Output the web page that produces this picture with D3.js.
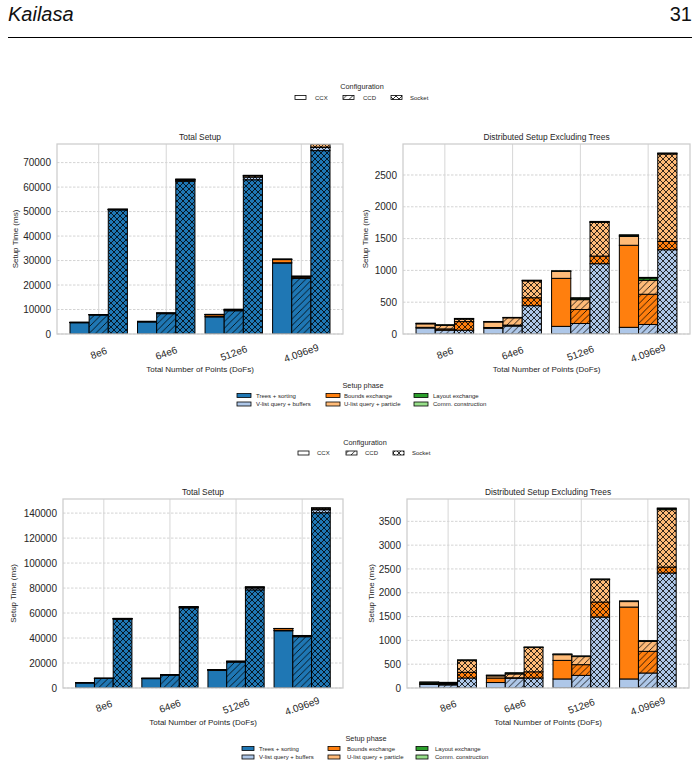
<!DOCTYPE html>
<html>
<head>
<meta charset="utf-8">
<script src="https://cdn.jsdelivr.net/npm/d3@7"></script>
<style>
  body { margin: 0; background: #fff; }
  text { font-family: "Liberation Sans", Arial, sans-serif; }
</style>
</head>
<body>
<div id="chart"></div>
<script>
// categories / series
var categories = ["8e6", "64e6", "512e6", "4.096e9"];
var configs = ["CCX", "CCD", "Socket"];
var configHatch = ["", "/", "x"];
var phases = ["Trees + sorting", "V-list query + buffers", "Bounds exchange",
              "U-list query + particle", "Layout exchange", "Comm. construction"];
var phaseColors = ["#1f77b4", "#aec7e8", "#ff7f0e", "#ffbb78", "#2ca02c", "#98df8a"];

// rows: CCX, CCD, Socket ; columns: categories
var topTrees  = [[4600, 4950, 7000, 29000], [7800, 8300, 9500, 22700], [50700, 62350, 63000, 74900]];
var topVlist  = [[95, 90, 120, 105], [60, 125, 165, 150], [60, 445, 1105, 1325]];
var topBounds = [[10, 12, 755, 1290], [20, 15, 220, 475], [135, 125, 120, 130]];
var topUlist  = [[55, 88, 110, 140], [55, 115, 155, 220], [40, 265, 530, 1375]];
var topLayout = [[5, 3, 4, 15], [5, 3, 20, 35], [5, 6, 8, 10]];
var topComm   = [[5, 4, 4, 10], [5, 3, 10, 10], [5, 5, 7, 5]];

var botTrees  = [[4150, 7490, 14000, 45820], [7640, 10390, 20730, 41040], [55090, 64190, 78560, 140300]];
var botVlist  = [[75, 115, 190, 190], [65, 205, 265, 315], [210, 210, 1490, 2415]];
var botBounds = [[10, 95, 390, 1510], [10, 10, 225, 455], [120, 130, 315, 125]];
var botUlist  = [[15, 45, 120, 115], [15, 80, 170, 210], [245, 510, 470, 1205]];
var botLayout = [[20, 10, 8, 8], [20, 15, 8, 8], [10, 6, 8, 25]];
var botComm   = [[6, 5, 6, 4], [9, 10, 4, 6], [5, 4, 6, 10]];

var topTotalMax = 77600; // left ylim of upper figure (tallest bar is cut)

var svg = d3.select("#chart").append("svg")
    .attr("width", 700)
    .attr("height", 768);
svg.append("rect").attr("width", 700).attr("height", 768).attr("fill", "#fff");
var defs = svg.append("defs");

// hatch patterns
var patternCache = {};
function fillFor(color, hatch) {
    if (!hatch) return color;
    var id = "p" + color.replace("#", "") + (hatch == "/" ? "d" : "x");
    if (!patternCache[id]) {
        var s = hatch == "/" ? 6.5 : 6;
        var p = defs.append("pattern")
            .attr("id", id)
            .attr("patternUnits", "userSpaceOnUse")
            .attr("width", s)
            .attr("height", s);
        p.append("rect").attr("width", s).attr("height", s).attr("fill", color);
        var d = hatch == "/"
            ? "M0," + s + " L" + s + ",0 M" + (-s / 2) + "," + (s / 2) + " L" + (s / 2) + "," + (-s / 2) +
              " M" + (s / 2) + "," + (s * 1.5) + " L" + (s * 1.5) + "," + (s / 2)
            : "M0,0 L" + s + "," + s + " M0," + s + " L" + s + ",0";
        p.append("path").attr("d", d).attr("stroke", "#000").attr("stroke-width", 0.8).attr("fill", "none");
        patternCache[id] = true;
    }
    return "url(#" + id + ")";
}

// header
svg.append("text").attr("x", 8).attr("y", 21)
    .attr("font-size", "20px").attr("font-style", "italic").attr("fill", "#111")
    .text("Kailasa");
svg.append("text").attr("x", 692).attr("y", 21)
    .attr("font-size", "20px").attr("text-anchor", "end").attr("fill", "#111")
    .text("31");
svg.append("line").attr("x1", 8).attr("x2", 692).attr("y1", 37.5).attr("y2", 37.5)
    .attr("stroke", "#000").attr("stroke-width", 1);

var panelCount = 0;
function drawPanel(opts) {
    var x0 = opts.x0, x1 = opts.x1, y0 = opts.y0, y1 = opts.y1;
    var g = svg.append("g");
    var clipId = "clip" + (panelCount++);
    defs.append("clipPath").attr("id", clipId)
        .append("rect").attr("x", x0).attr("y", y0).attr("width", x1 - x0).attr("height", y1 - y0);

    var x = d3.scaleBand().domain(categories).range([x0, x1])
        .paddingInner(0.15).paddingOuter(0.1925);
    var xc = d3.scaleBand().domain(configs).range([0, x.bandwidth()]);

    // stacked totals
    var stacks = opts.series;
    var yMax = opts.yMax;
    if (!yMax) {
        var m = 0;
        configs.forEach(function (c, ci) {
            categories.forEach(function (k, ki) {
                m = Math.max(m, d3.sum(stacks, function (s) { return s.values[ci][ki]; }));
            });
        });
        yMax = m * 1.05;
    }
    var y = d3.scaleLinear().domain([0, yMax]).range([y1, y0]);

    // grid
    g.selectAll(".hg").data(opts.ticks).enter().append("line")
        .attr("x1", x0).attr("x2", x1)
        .attr("y1", function (d) { return y(d); }).attr("y2", function (d) { return y(d); })
        .attr("stroke", "#c8c8c8").attr("stroke-width", 0.8).attr("stroke-dasharray", "2.5,1.5");
    g.selectAll(".vg").data(categories).enter().append("line")
        .attr("x1", function (d) { return x(d) + x.bandwidth() / 2; })
        .attr("x2", function (d) { return x(d) + x.bandwidth() / 2; })
        .attr("y1", y0).attr("y2", y1)
        .attr("stroke", "#d6d6d6").attr("stroke-width", 1);

    // bars
    var bars = g.append("g").attr("clip-path", "url(#" + clipId + ")");
    configs.forEach(function (c, ci) {
        categories.forEach(function (k, ki) {
            var base = 0;
            stacks.forEach(function (s) {
                var v = s.values[ci][ki];
                bars.append("rect")
                    .attr("x", x(k) + xc(c))
                    .attr("width", xc.bandwidth())
                    .attr("y", y(base + v))
                    .attr("height", y(base) - y(base + v))
                    .attr("fill", fillFor(s.color, configHatch[ci]))
                    .attr("stroke", "#000")
                    .attr("stroke-width", 1);
                base += v;
            });
        });
    });

    // frame
    g.append("rect").attr("x", x0).attr("y", y0).attr("width", x1 - x0).attr("height", y1 - y0)
        .attr("fill", "none").attr("stroke", "#cccccc").attr("stroke-width", 1.25);

    // axes
    var yAxis = g.append("g").attr("transform", "translate(" + x0 + ",0)")
        .call(d3.axisLeft(y).tickValues(opts.ticks).tickSize(0).tickPadding(6).tickFormat(d3.format("d")));
    yAxis.select(".domain").remove();
    yAxis.selectAll("text").attr("font-size", "10px").attr("fill", "#262626")
        .style("font-family", "'Liberation Sans', Arial, sans-serif");

    var xAxis = g.append("g").attr("transform", "translate(0," + y1 + ")")
        .call(d3.axisBottom(x).tickSize(0));
    xAxis.select(".domain").remove();
    xAxis.selectAll("text")
        .attr("y", 0).attr("dy", "0.35em")
        .attr("transform", "translate(0," + opts.xTickPad + ") rotate(-20)")
        .attr("text-anchor", "middle")
        .attr("font-size", "10px").attr("fill", "#262626")
        .style("font-family", "'Liberation Sans', Arial, sans-serif");

    g.append("text").attr("x", (x0 + x1) / 2).attr("y", y0 - 4)
        .attr("text-anchor", "middle").attr("font-size", "8.4px").attr("fill", "#262626")
        .text(opts.title);
    g.append("text").attr("x", (x0 + x1) / 2).attr("y", opts.xLabelY)
        .attr("text-anchor", "middle").attr("font-size", "8px").attr("fill", "#262626")
        .text("Total Number of Points (DoFs)");
    g.append("text")
        .attr("transform", "translate(" + opts.yLabelX + "," + ((y0 + y1) / 2) + ") rotate(-90)")
        .attr("text-anchor", "middle").attr("dy", "0.35em")
        .attr("font-size", "8px").attr("fill", "#262626")
        .text("Setup Time (ms)");
}

function configLegend(cx, yTitle, yRow, boxX, textX) {
    var g = svg.append("g");
    g.append("text").attr("x", cx).attr("y", yTitle).attr("text-anchor", "middle")
        .attr("font-size", "7.3px").attr("fill", "#262626").text("Configuration");
    configs.forEach(function (c, i) {
        g.append("rect").attr("x", boxX[i]).attr("y", yRow - 4).attr("width", 11).attr("height", 4)
            .attr("fill", fillFor("#ffffff", configHatch[i])).attr("stroke", "#000").attr("stroke-width", 0.8);
        g.append("text").attr("x", textX[i]).attr("y", yRow).attr("font-size", "6px")
            .attr("fill", "#262626").text(c);
    });
}

function phaseLegend(cx, yTitle, yRows, boxX, textX, boxW) {
    var g = svg.append("g");
    g.append("text").attr("x", cx).attr("y", yTitle).attr("text-anchor", "middle")
        .attr("font-size", "7.3px").attr("fill", "#262626").text("Setup phase");
    phases.forEach(function (p, i) {
        var col = Math.floor(i / 2), row = i % 2;
        g.append("rect").attr("x", boxX[col]).attr("y", yRows[row] - 4).attr("width", boxW).attr("height", 4)
            .attr("fill", phaseColors[i]).attr("stroke", "#000").attr("stroke-width", 0.8);
        g.append("text").attr("x", textX[col]).attr("y", yRows[row]).attr("font-size", "6px")
            .attr("fill", "#262626").text(p);
    });
}

function series(list, from) {
    return list.slice(from).map(function (v, i) {
        return { values: v, color: phaseColors[from + i] };
    });
}

var topAll = [topTrees, topVlist, topBounds, topUlist, topLayout, topComm];
var botAll = [botTrees, botVlist, botBounds, botUlist, botLayout, botComm];

// upper figure
configLegend(362, 89, 99.5, [295, 343, 391], [315, 363, 410]);
drawPanel({ x0: 57, x1: 343, y0: 144, y1: 334, series: series(topAll, 0), yMax: topTotalMax,
    ticks: d3.range(0, 70001, 10000), title: "Total Setup", xTickPad: 19, xLabelY: 372, yLabelX: 15 });
drawPanel({ x0: 403, x1: 690, y0: 144, y1: 334, series: series(topAll, 1),
    ticks: d3.range(0, 2501, 500), title: "Distributed Setup Excluding Trees", xTickPad: 19, xLabelY: 372, yLabelX: 365 });
phaseLegend(363, 388, [397.5, 406], [237, 326, 414], [256, 344, 433], 14);

// lower figure
configLegend(365, 445, 455, [298, 346, 393], [317, 365, 412]);
drawPanel({ x0: 63, x1: 343, y0: 499, y1: 688, series: series(botAll, 0),
    ticks: d3.range(0, 140001, 20000), title: "Total Setup", xTickPad: 18, xLabelY: 725, yLabelX: 13 });
drawPanel({ x0: 407, x1: 689, y0: 499, y1: 688, series: series(botAll, 1),
    ticks: d3.range(0, 3501, 500), title: "Distributed Setup Excluding Trees", xTickPad: 18, xLabelY: 725, yLabelX: 371 });
phaseLegend(366, 741, [750.5, 759], [242, 328, 416], [259, 347, 435], 12);
</script>
</body>
</html>
